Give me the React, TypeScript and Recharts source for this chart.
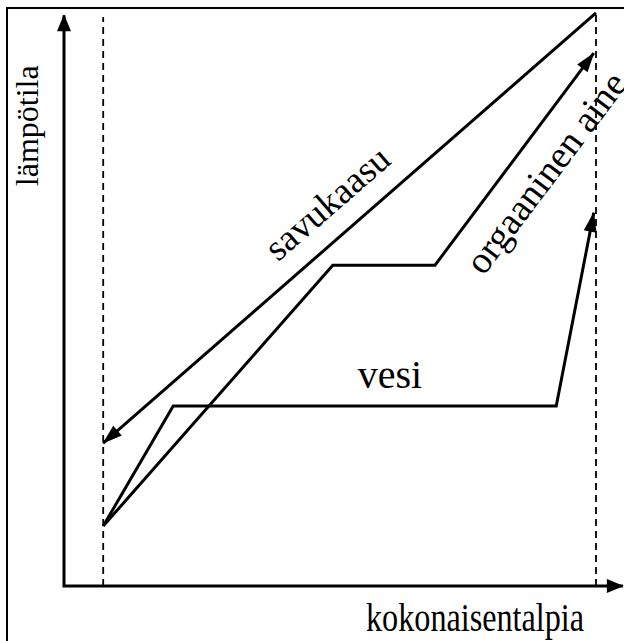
import React from "react";
import { LineChart, Line, XAxis, YAxis, ReferenceLine, ReferenceDot } from "recharts";

// Data (arbitrary units: enthalpy 0-100, temperature 0-100)
const axisX = [0, 0, 99.8];
const axisY = [99.1, 0, 0];
const savukaasuX = [95, 7];
const savukaasuY = [99.5, 24.8];
const organicX = [7, 48.0, 66.25, 94.6];
const organicY = [10.4, 55.7, 55.7, 92.5];
const vesiX = [7, 19.5, 87.9, 94.6];
const vesiY = [10.4, 31.25, 31.25, 64.8];
const dashedLeftX = 7;
const dashedLeftTop = 98.8;
const dashedRightX = 95;
const dashedRightTop = 99.5;

const labelTexts = ["savukaasu", "orgaaninen aine", "vesi", "lämpötila", "kokonaisentalpia"];
const labelX = [47.0, 86.0, 58.2, -4.64, 73.4];
const labelY = [66.5, 71.8, 34.4, 79.9, -7.85];

const toRows = (xs: number[], ys: number[]) => xs.map((x, i) => ({ x, y: ys[i] }));
const axisData = toRows(axisX, axisY);
const savukaasuData = toRows(savukaasuX, savukaasuY);
const organicData = toRows(organicX, organicY);
const vesiData = toRows(vesiX, vesiY);

const W = 624;
const H = 641;
const MARGIN = { top: 10, right: 0, bottom: 55, left: 64 };
const PW = W - MARGIN.left - MARGIN.right;
const PH = H - MARGIN.top - MARGIN.bottom;
const FONT = "'Liberation Serif', 'Times New Roman', serif";

const head = (tx: number, ty: number, fx: number, fy: number, len: number, wid: number, key: string) => {
  const dx = tx - fx;
  const dy = ty - fy;
  const d = Math.hypot(dx, dy) || 1;
  const ux = dx / d;
  const uy = dy / d;
  const bx = tx - ux * len;
  const by = ty - uy * len;
  const px = (-uy * wid) / 2;
  const py = (ux * wid) / 2;
  return (
    <polygon
      key={key}
      points={`${tx + ux * 1},${ty + uy * 1} ${bx + px},${by + py} ${bx - px},${by - py}`}
      fill="#000"
      stroke="none"
    />
  );
};

const prevPoint = (props: any, idx: number) => {
  if (props.points && props.points[idx]) return { x: props.points[idx].x, y: props.points[idx].y };
  return null;
};

const makeArrowDot = (data: { x: number; y: number }[], len: number, wid: number, both = false) => (props: any) => {
  const { cx, cy, index } = props;
  const last = data.length - 1;
  const key = `d-${index}`;
  const fallback = (i: number) => ({
    x: cx + ((data[i].x - data[index].x) * PW) / 100,
    y: cy - ((data[i].y - data[index].y) * PH) / 100,
  });
  if (index === last) {
    const p = prevPoint(props, index - 1) || fallback(index - 1);
    return head(cx, cy, p.x, p.y, len, wid, key);
  }
  if (both && index === 0) {
    const p = prevPoint(props, 1) || fallback(1);
    return head(cx, cy, p.x, p.y, len, wid, key);
  }
  return <g key={key} />;
};

const textShape = (i: number, size: number, angle: number, baseline: string, textLength?: number) => (props: any) => (
  <text
    x={props.cx}
    y={props.cy}
    transform={`rotate(${angle} ${props.cx} ${props.cy})`}
    textAnchor="middle"
    dominantBaseline={baseline as any}
    fontSize={size}
    fontFamily={FONT}
    fill="#000"
    {...(textLength ? { textLength, lengthAdjust: "spacingAndGlyphs" } : {})}
  >
    {labelTexts[i]}
  </text>
);

export default function App() {
  return (
    <div style={{ position: "absolute", left: 0, top: 0, width: W, height: H, overflow: "hidden", background: "#fff" }}>
      <div
        style={{
          position: "absolute",
          left: 6,
          top: 7,
          width: 800,
          height: 800,
          borderLeft: "2px solid #000",
          borderTop: "2px solid #000",
        }}
      />
      <div style={{ position: "absolute", left: 0, top: 0 }}>
        <LineChart width={W} height={H} margin={MARGIN}>
          <XAxis type="number" dataKey="x" domain={[0, 100]} hide />
          <YAxis type="number" dataKey="y" domain={[0, 100]} hide />
          <ReferenceLine
            segment={[{ x: dashedLeftX, y: 0 }, { x: dashedLeftX, y: dashedLeftTop }]}
            stroke="#000"
            strokeWidth={1.8}
            strokeDasharray="7 5"
          />
          <ReferenceLine
            segment={[{ x: dashedRightX, y: 0 }, { x: dashedRightX, y: dashedRightTop }]}
            stroke="#000"
            strokeWidth={1.8}
            strokeDasharray="7 5"
          />
          <Line
            data={axisData}
            dataKey="y"
            type="linear"
            stroke="#000"
            strokeWidth={3}
            strokeLinejoin="miter"
            dot={makeArrowDot(axisData, 16, 14, true)}
            activeDot={false}
            isAnimationActive={false}
          />
          <Line
            data={savukaasuData}
            dataKey="y"
            type="linear"
            stroke="#000"
            strokeWidth={3}
            dot={makeArrowDot(savukaasuData, 19, 13)}
            activeDot={false}
            isAnimationActive={false}
          />
          <Line
            data={organicData}
            dataKey="y"
            type="linear"
            stroke="#000"
            strokeWidth={3}
            strokeLinejoin="miter"
            dot={makeArrowDot(organicData, 19, 13)}
            activeDot={false}
            isAnimationActive={false}
          />
          <Line
            data={vesiData}
            dataKey="y"
            type="linear"
            stroke="#000"
            strokeWidth={3}
            strokeLinejoin="miter"
            dot={makeArrowDot(vesiData, 19, 13)}
            activeDot={false}
            isAnimationActive={false}
          />
          <ReferenceDot x={labelX[0]} y={labelY[0]} ifOverflow="visible" shape={textShape(0, 37, -41, "central")} />
          <ReferenceDot x={labelX[1]} y={labelY[1]} ifOverflow="visible" shape={textShape(1, 38, -53, "central")} />
          <ReferenceDot x={labelX[2]} y={labelY[2]} ifOverflow="visible" shape={textShape(2, 40, 0, "alphabetic")} />
          <ReferenceDot x={labelX[3]} y={labelY[3]} ifOverflow="visible" shape={textShape(3, 32, -90, "alphabetic")} />
          <ReferenceDot x={labelX[4]} y={labelY[4]} ifOverflow="visible" shape={textShape(4, 40, 0, "alphabetic", 218)} />
        </LineChart>
      </div>
    </div>
  );
}
